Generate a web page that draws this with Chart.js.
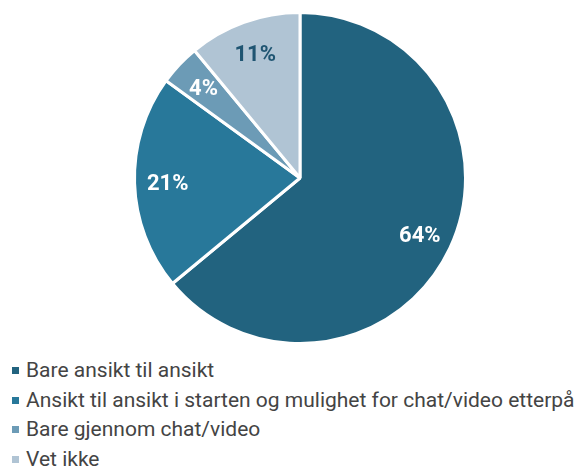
<!DOCTYPE html>
<html>
<head>
<meta charset="utf-8">
<script src="https://cdn.jsdelivr.net/npm/chart.js@4/dist/chart.umd.min.js"></script>
<style>
  html, body { margin: 0; padding: 0; background: #ffffff; overflow: hidden; }
  #wrap { position: relative; width: 584px; height: 356px; }
  #legend { list-style: none; margin: 0; padding: 0 0 0 12px; font-family: Roboto, "Noto Sans", sans-serif; font-size: 21px; color: #444444; white-space: nowrap; }
  #legend li { height: 29.5px; line-height: 29.5px; display: flex; align-items: center; }
  #legend .box { width: 7px; height: 7px; margin-right: 7px; flex: none; }
</style>
</head>
<body>
<div id="wrap"><canvas id="c"></canvas></div>
<ul id="legend"></ul>
<script>
const categories = [
  'Bare ansikt til ansikt',
  'Ansikt til ansikt i starten og mulighet for chat/video etterpå',
  'Bare gjennom chat/video',
  'Vet ikke'
];
const shares = [64, 21, 4, 11];
const sliceColors = ['#22637f', '#28789a', '#6c9bb6', '#b0c4d4'];
const labelColors = ['#ffffff', '#ffffff', '#ffffff', '#1f5572'];

// Percent labels drawn inside each slice
const sliceLabels = {
  id: 'sliceLabels',
  afterDatasetsDraw(chart) {
    const { ctx } = chart;
    const meta = chart.getDatasetMeta(0);
    ctx.save();
    ctx.font = 'bold 22px Roboto, "Noto Sans", sans-serif';
    ctx.textAlign = 'center';
    ctx.textBaseline = 'middle';
    meta.data.forEach((arc, i) => {
      const p = arc.getProps(['x', 'y', 'startAngle', 'endAngle', 'outerRadius'], true);
      const mid = (p.startAngle + p.endAngle) / 2;
      const r = p.outerRadius * 0.8;
      ctx.fillStyle = labelColors[i];
      ctx.fillText(shares[i] + '%', p.x + Math.cos(mid) * r, p.y + Math.sin(mid) * r + 2);
    });
    ctx.restore();
  }
};

const chart = new Chart(document.getElementById('c'), {
  type: 'pie',
  data: {
    labels: categories,
    datasets: [{
      data: shares,
      backgroundColor: sliceColors,
      borderColor: '#ffffff',
      borderWidth: 3
    }]
  },
  options: {
    responsive: true,
    maintainAspectRatio: false,
    animation: false,
    layout: { padding: { top: 11, bottom: 11, left: 16, right: 0 } },
    plugins: {
      legend: { display: false },
      tooltip: { enabled: false }
    }
  },
  plugins: [sliceLabels]
});

// Legend list built from the chart's own legend items
const ul = document.getElementById('legend');
chart.options.plugins.legend.labels.generateLabels(chart).forEach(item => {
  const li = document.createElement('li');
  const box = document.createElement('span');
  box.className = 'box';
  box.style.background = item.fillStyle;
  li.appendChild(box);
  li.appendChild(document.createTextNode(item.text));
  ul.appendChild(li);
});
</script>
</body>
</html>
